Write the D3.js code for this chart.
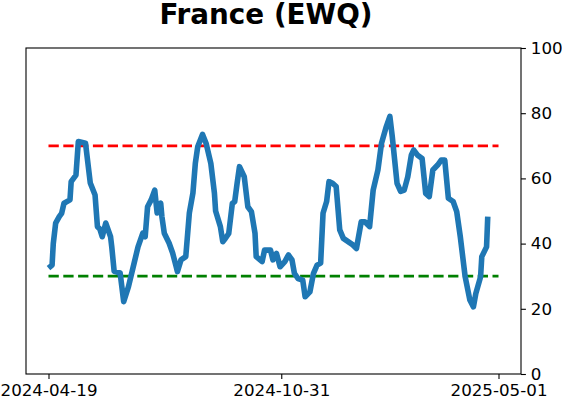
<!DOCTYPE html>
<html>
<head>
<meta charset="utf-8">
<script src="https://cdn.jsdelivr.net/npm/d3@7"></script>
<style>
  body { margin: 0; background: #fff; }
  svg { display: block; font-family: "DejaVu Sans", sans-serif; }
</style>
</head>
<body>
<div class="chart"></div>
<script>
// values
var dates = [
  '2024-04-19','2024-04-22','2024-04-23','2024-04-25','2024-04-28','2024-04-30','2024-05-02','2024-05-07',
  '2024-05-08','2024-05-12','2024-05-14','2024-05-20','2024-05-24','2024-05-28','2024-05-30','2024-06-01',
  '2024-06-03','2024-06-06','2024-06-10','2024-06-11','2024-06-13','2024-06-18','2024-06-21','2024-06-25',
  '2024-06-29','2024-07-03','2024-07-07','2024-07-09','2024-07-11','2024-07-14','2024-07-17','2024-07-19',
  '2024-07-22','2024-07-23','2024-07-25','2024-07-29','2024-08-01','2024-08-04','2024-08-05','2024-08-08',
  '2024-08-12','2024-08-15','2024-08-18','2024-08-20','2024-08-22','2024-08-26','2024-08-29','2024-09-02',
  '2024-09-05','2024-09-06','2024-09-10','2024-09-12','2024-09-14','2024-09-17','2024-09-20','2024-09-22',
  '2024-09-24','2024-09-26','2024-09-30','2024-10-03','2024-10-06','2024-10-09','2024-10-10','2024-10-15',
  '2024-10-17','2024-10-22','2024-10-24','2024-10-27','2024-10-30','2024-11-03','2024-11-06','2024-11-09',
  '2024-11-11','2024-11-14','2024-11-18','2024-11-20','2024-11-24','2024-11-27','2024-11-30','2024-12-03',
  '2024-12-05','2024-12-08','2024-12-10','2024-12-13','2024-12-16','2024-12-19','2024-12-22','2024-12-26',
  '2024-12-30','2025-01-02','2025-01-06','2025-01-09','2025-01-13','2025-01-16','2025-01-20','2025-01-23',
  '2025-01-27','2025-01-30','2025-02-01','2025-02-05','2025-02-08','2025-02-11','2025-02-14','2025-02-17',
  '2025-02-19','2025-02-22','2025-02-26','2025-03-01','2025-03-04','2025-03-07','2025-03-11','2025-03-14',
  '2025-03-17','2025-03-20','2025-03-24','2025-03-27','2025-03-30','2025-04-03','2025-04-07','2025-04-10',
  '2025-04-12','2025-04-16','2025-04-17','2025-04-21','2025-04-22'
];
var values = [
  32.5, 33.4, 40, 46.3, 48.3, 49.3, 52.4, 53.4,
  59, 61, 71.3, 70.8, 58.6, 54.9, 45.2, 44.5,
  42.1, 46.3, 42.1, 39, 31.5, 31, 22.2, 26.8,
  32.9, 39, 43.2, 42.1, 51.3, 53.4, 56.4, 49.4,
  52.4, 48.3, 43.2, 40.2, 37.1, 32.9, 31.4, 35,
  36, 49.4, 55.5, 64.6, 69.7, 73.5, 70.8, 64.6,
  55.5, 50, 45.2, 40.6, 41.5, 43.1, 52.3, 52.9,
  58.5, 63.6, 60.5, 51.3, 49.8, 43.2, 36, 34.5,
  38, 38, 35, 37, 32.9, 34.5, 36.5, 35,
  30.9, 29.3, 28.8, 23.7, 25.2, 30.9, 33.4, 34,
  49.3, 52.9, 59, 58.5, 57.5, 44.2, 41.6, 40.6,
  39.6, 38.5, 46.7, 46.7, 45.2, 56.4, 62.6, 70.8,
  75.9, 79, 72.8, 58.5, 56, 56.4, 60.5, 67.2,
  68.7, 67.2, 66.1, 55.4, 54.4, 62.6, 64.1, 65.6,
  65.6, 53.9, 52.9, 49.8, 42.1, 30, 22.7, 20.6,
  24.7, 29.8, 36, 39, 48.3
];
var xTickLabels = ['2024-04-19', '2024-10-31', '2025-05-01'];
var yTicks = [0, 20, 40, 60, 80, 100];
var upperLevel = 70;
var lowerLevel = 30;
var title = 'France (EWQ)';

var width = 562, height = 402;
var margin = {top: 48, right: 41, bottom: 28, left: 26};

var parse = d3.utcParse('%Y-%m-%d');
var series = dates.map(function(d, i) { return {date: parse(d), value: values[i]}; });
var tickDates = xTickLabels.map(parse);

// axis limits: tick span plus 5% padding each side
var t0 = tickDates[0].getTime(), t1 = tickDates[tickDates.length - 1].getTime();
var pad = (t1 - t0) * 0.05;

var x = d3.scaleUtc()
  .domain([new Date(t0 - pad), new Date(t1 + pad)])
  .range([margin.left, width - margin.right]);
var y = d3.scaleLinear()
  .domain([0, 100])
  .range([height - margin.bottom, margin.top]);

var svg = d3.select('.chart').append('svg')
  .attr('width', width).attr('height', height);

// threshold lines
[[upperLevel, '#ff0000'], [lowerLevel, '#008000']].forEach(function(l) {
  svg.append('line')
    .attr('x1', x(tickDates[0])).attr('x2', x(tickDates[tickDates.length - 1]))
    .attr('y1', y(l[0])).attr('y2', y(l[0]))
    .attr('stroke', l[1]).attr('stroke-width', 2.8)
    .attr('stroke-dasharray', '10.3,4.5');
});

var line = d3.line()
  .x(function(d) { return x(d.date); })
  .y(function(d) { return y(d.value); });

svg.append('path')
  .datum(series)
  .attr('d', line)
  .attr('fill', 'none')
  .attr('stroke', '#1f77b4')
  .attr('stroke-width', 5.6)
  .attr('stroke-linejoin', 'round')
  .attr('stroke-linecap', 'butt');

// axes
var xAxis = d3.axisBottom(x)
  .tickValues(tickDates)
  .tickFormat(d3.utcFormat('%Y-%m-%d'))
  .tickSize(4.9).tickPadding(4.9);
var yAxis = d3.axisRight(y)
  .tickValues(yTicks)
  .tickSize(4.9).tickPadding(4.9);

var gx = svg.append('g')
  .attr('transform', 'translate(0,' + (height - margin.bottom) + ')')
  .call(xAxis);
var gy = svg.append('g')
  .attr('transform', 'translate(' + (width - margin.right) + ',0)')
  .call(yAxis);

[gx, gy].forEach(function(g) {
  g.select('.domain').remove();
  g.selectAll('.tick line').attr('stroke', '#000').attr('stroke-width', 1.1);
  g.selectAll('.tick text')
    .attr('fill', '#000')
    .style('font-family', '"DejaVu Sans", sans-serif')
    .style('font-size', '16.7px');
});

// frame
svg.append('rect')
  .attr('x', margin.left).attr('y', margin.top)
  .attr('width', width - margin.left - margin.right)
  .attr('height', height - margin.top - margin.bottom)
  .attr('fill', 'none').attr('stroke', '#000').attr('stroke-width', 1.1);

svg.append('text')
  .attr('x', 266)
  .attr('y', 24)
  .attr('text-anchor', 'middle')
  .style('font-family', '"DejaVu Sans", sans-serif')
  .style('font-weight', 'bold')
  .style('font-size', '27.8px')
  .text(title);
</script>
</body>
</html>
